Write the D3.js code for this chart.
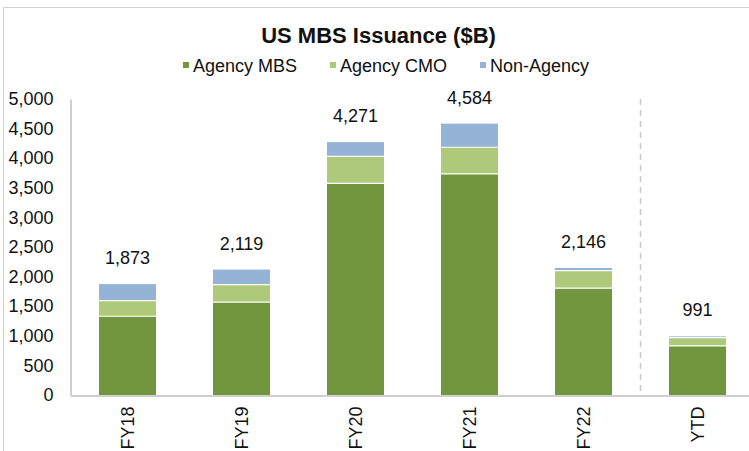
<!DOCTYPE html>
<html>
<head>
<meta charset="utf-8">
<script src="https://cdn.jsdelivr.net/npm/d3@7"></script>
<style>
  body { margin: 0; background: #fff; }
  text { font-family: "Liberation Sans", Arial, sans-serif; fill: #111; }
</style>
</head>
<body>
<div id="chart"></div>
<script>
const categories = ["FY18", "FY19", "FY20", "FY21", "FY22", "YTD"];
const agencyMbs = [1330, 1570, 3575, 3735, 1805, 830];
const agencyCmo = [265, 295, 455, 450, 295, 140];
const nonAgency = [278, 254, 241, 399, 46, 21];
const yTicks = [0, 500, 1000, 1500, 2000, 2500, 3000, 3500, 4000, 4500, 5000];

const seriesNames = ["Agency MBS", "Agency CMO", "Non-Agency"];
const colors = ["#71963d", "#afc97a", "#95b3d7"];

let makeChart = function() {
  const width = 749, height = 451;

  let svg = d3.select("#chart")
    .append("svg")
      .attr("width", width)
      .attr("height", height);

  // outer chart border (runs off the right / bottom like the original)
  svg.append("rect")
    .attr("x", 3.5).attr("y", 7.5)
    .attr("width", 780).attr("height", 480)
    .attr("fill", "none")
    .attr("stroke", "#d0d0d0");

  let rows = categories.map((c, i) => ({
    cat: c,
    "Agency MBS": agencyMbs[i],
    "Agency CMO": agencyCmo[i],
    "Non-Agency": nonAgency[i]
  }));

  let x = d3.scaleBand()
    .domain(categories)
    .range([70.5, 754.5])
    .paddingInner(0.5)
    .paddingOuter(0.25);

  let y = d3.scaleLinear()
    .domain([0, 5000])
    .range([395, 99]);

  let stack = d3.stack().keys(seriesNames);
  let layers = stack(rows);

  svg.selectAll("g.layer")
    .data(layers)
    .enter()
    .append("g")
      .attr("class", "layer")
      .attr("fill", (d, i) => colors[i])
    .selectAll("rect")
    .data(d => d)
    .enter()
    .append("rect")
      .attr("x", d => x(d.data.cat))
      .attr("width", x.bandwidth())
      .attr("y", d => y(d[1]))
      .attr("height", d => y(d[0]) - y(d[1]));

  // white separators between stacked segments
  svg.selectAll("line.sep")
    .data(layers.slice(1).flat())
    .enter()
    .append("line")
      .attr("class", "sep")
      .attr("x1", d => x(d.data.cat))
      .attr("x2", d => x(d.data.cat) + x.bandwidth())
      .attr("y1", d => y(d[0]))
      .attr("y2", d => y(d[0]))
      .attr("stroke", "#fff")
      .attr("stroke-width", 1.2);

  // y axis
  let yAxis = svg.append("g")
    .attr("transform", "translate(70.5,0)")
    .call(d3.axisLeft(y)
      .tickValues(yTicks)
      .tickFormat(d3.format(","))
      .tickSize(0)
      .tickPadding(17));
  yAxis.select(".domain").attr("stroke", "#bfbfbf").attr("stroke-width", 1.5);
  yAxis.selectAll("text")
    .style("font-size", "18px")
    .style("font-family", "'Liberation Sans', Arial, sans-serif")
    .attr("fill", "#111");

  // x axis
  let xAxis = svg.append("g")
    .attr("transform", "translate(0,395.5)")
    .call(d3.axisBottom(x).tickSize(0).tickSizeOuter(0));
  xAxis.select(".domain").attr("stroke", "#bfbfbf").attr("stroke-width", 1.5);
  xAxis.selectAll("text")
    .style("font-size", "18px")
    .style("font-family", "'Liberation Sans', Arial, sans-serif")
    .attr("fill", "#111")
    .attr("text-anchor", "end")
    .attr("transform", "rotate(-90)")
    .attr("x", -11)
    .attr("y", 0)
    .attr("dy", "0.35em");

  // dashed divider before YTD
  let fy22End = x("FY22") + x.bandwidth();
  let divX = (fy22End + x("YTD")) / 2;
  svg.append("line")
    .attr("x1", divX).attr("x2", divX)
    .attr("y1", y(5000)).attr("y2", y(0))
    .attr("stroke", "#c8c8c8")
    .attr("stroke-width", 1.5)
    .attr("stroke-dasharray", "6,5");

  // total labels
  svg.selectAll("text.total")
    .data(rows)
    .enter()
    .append("text")
      .attr("class", "total")
      .attr("x", d => x(d.cat) + x.bandwidth() / 2)
      .attr("y", d => y(d["Agency MBS"] + d["Agency CMO"] + d["Non-Agency"]) - 20)
      .attr("text-anchor", "middle")
      .style("font-size", "18px")
      .text(d => d3.format(",")(d["Agency MBS"] + d["Agency CMO"] + d["Non-Agency"]));

  // title
  svg.append("text")
    .attr("x", 378.5)
    .attr("y", 43)
    .attr("text-anchor", "middle")
    .style("font-size", "22px")
    .style("font-weight", "bold")
    .text("US MBS Issuance ($B)");

  // legend
  let legend = svg.append("g");
  let gap = 33;
  let lx = 0;
  seriesNames.forEach((name, i) => {
    let item = legend.append("g").attr("transform", `translate(${lx},0)`);
    item.append("rect")
      .attr("x", 0).attr("y", -10)
      .attr("width", 6).attr("height", 6)
      .attr("fill", colors[i]);
    let t = item.append("text")
      .attr("x", 10)
      .attr("y", 0)
      .style("font-size", "18px")
      .text(name);
    lx += 10 + t.node().getComputedTextLength() + gap;
  });
  let legendW = lx - gap;
  legend.attr("transform", `translate(${386 - legendW / 2},72)`);
}

makeChart();
</script>
</body>
</html>
